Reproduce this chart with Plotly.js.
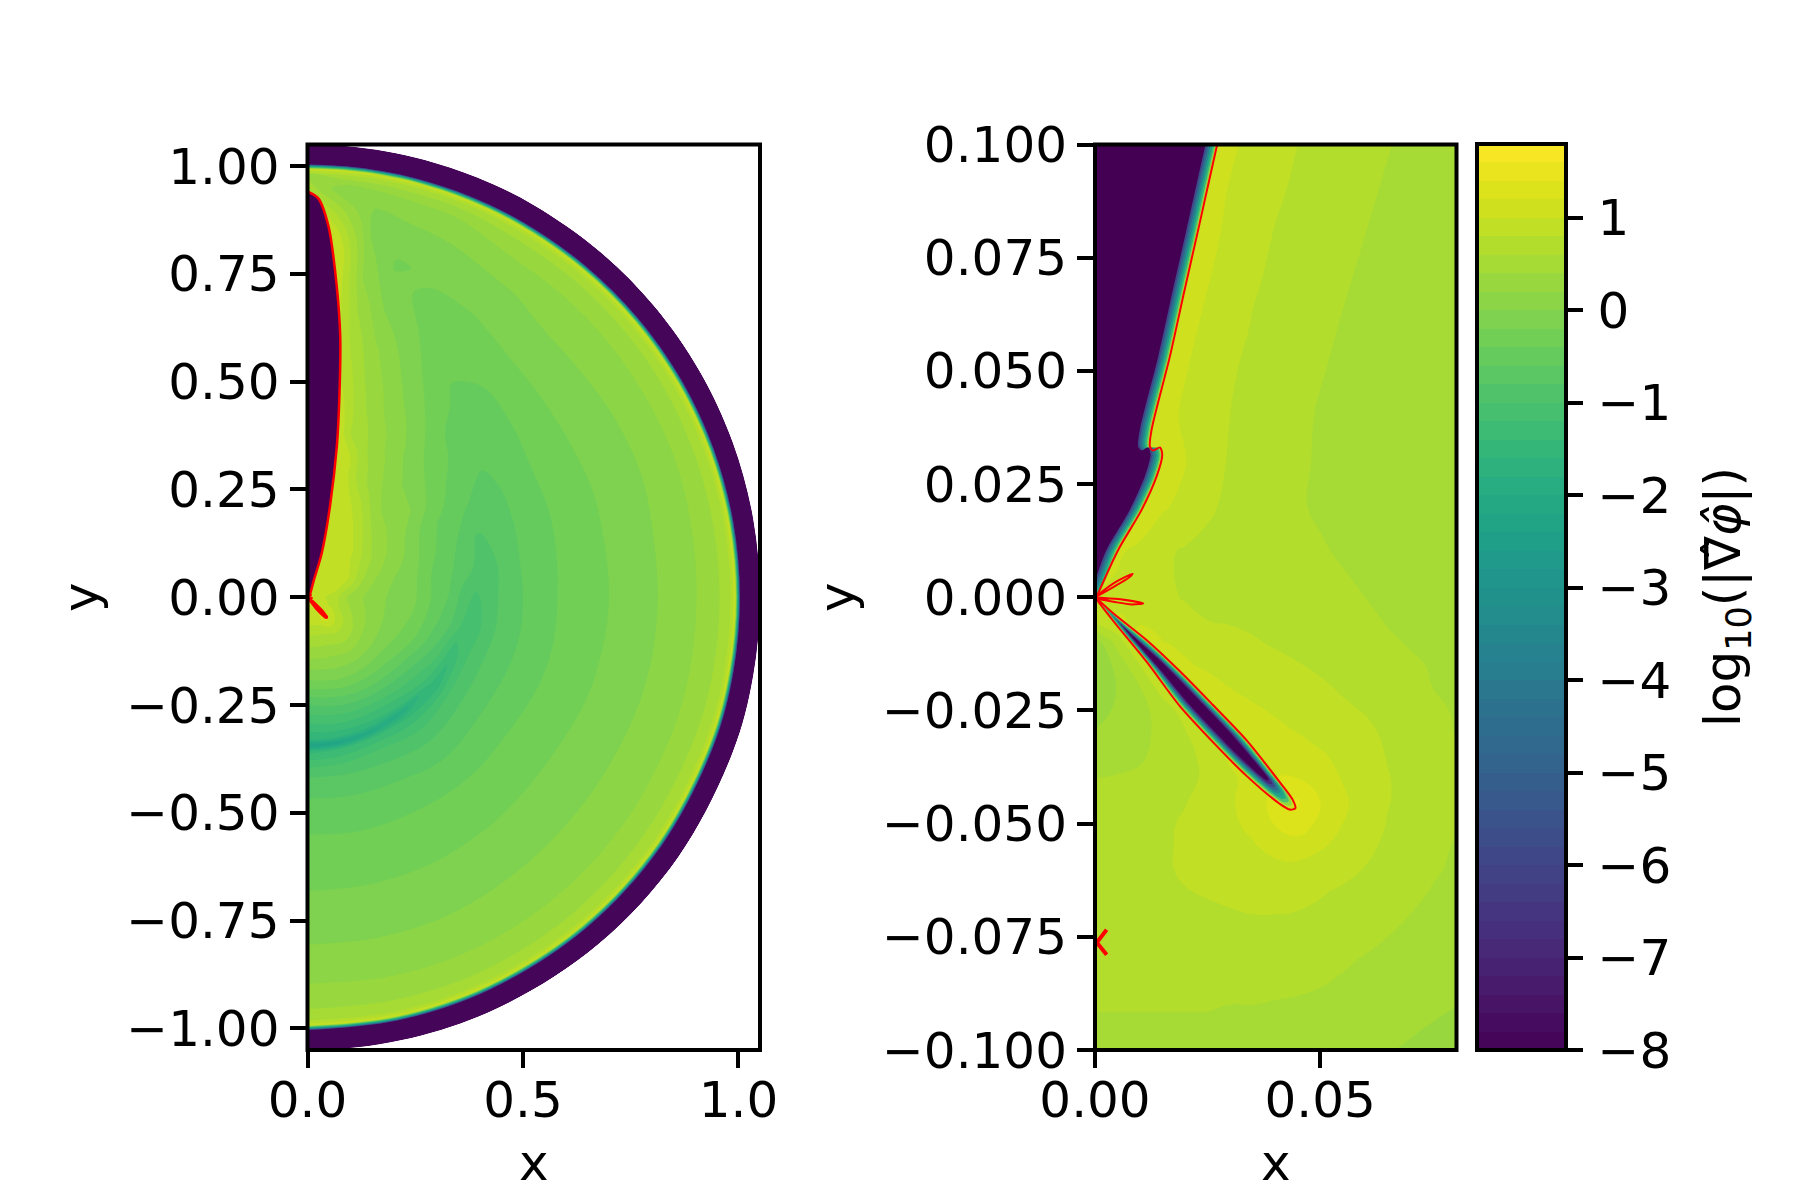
<!DOCTYPE html>
<html>
<head>
<meta charset="utf-8">
<script src="https://cdn.plot.ly/plotly-3.0.1.min.js"></script>
<style>html,body{margin:0;padding:0;background:#fff}</style>
</head>
<body>
<div id="chart" style="width:1800px;height:1200px"></div>
<script>
// ---------- left panel: field read along rays (radius, angle in degrees) ----------
const rNodes = [0,.03,.06,.1,.15,.2,.25,.3,.33,.345,.36,.39,.42,.46,.5,.55,.6,.65,.7,.75,.8,.85,.9,.95,.98,.993,1.0,1.004,1.05];
const angleNodes = [-90,-78,-65,-50,-35,-20,-10,0,10,20,30,40,50,60,68,75,80,85,90];
const fieldLeft = [
 [.9,.9,.85,.52,.15,-.27,-.8,-1.27,-1.6,-2.3,-1.45,-1.05,-.78,-.62,-.5,-.4,-.32,-.25,-.17,-.08,-.01,.08,.21,.37,.55,.95,-3,-7.9,-7.9],
 [.9,.9,.85,.52,.16,-.22,-.72,-1.2,-1.55,-2.25,-1.4,-1.03,-.8,-.63,-.52,-.41,-.32,-.25,-.17,-.08,-.01,.07,.2,.37,.54,.95,-3,-7.9,-7.9],
 [.9,.9,.9,.55,.2,-.15,-.62,-1.15,-1.5,-2.05,-1.35,-1,-.82,-.64,-.53,-.41,-.32,-.25,-.17,-.08,-.01,.07,.19,.36,.52,.95,-3,-7.9,-7.9],
 [.9,.9,1.15,.65,.28,-.12,-.55,-1.05,-1.4,-1.9,-1.45,-1.1,-.88,-.7,-.57,-.42,-.33,-.25,-.16,-.08,0,.07,.19,.36,.52,.95,-3,-7.9,-7.9],
 [.9,.9,.95,.62,.22,-.1,-.45,-.9,-1.15,-1.35,-1.55,-1.05,-.85,-.68,-.55,-.42,-.33,-.25,-.15,-.08,0,.07,.19,.37,.53,.95,-3,-7.9,-7.9],
 [.9,.9,.75,.45,.16,-.08,-.28,-.65,-.9,-1.1,-1.3,-1.05,-.85,-.7,-.58,-.45,-.35,-.27,-.18,-.1,-.01,.07,.19,.37,.53,.95,-3,-7.9,-7.9],
 [.9,.9,.72,.38,.12,-.07,-.22,-.55,-.72,-.85,-.98,-1.15,-.9,-.72,-.6,-.46,-.36,-.28,-.19,-.12,-.02,.07,.19,.36,.54,.95,-3,-7.9,-7.9],
 [.9,.85,.72,.32,.12,-.06,-.18,-.48,-.62,-.75,-.88,-1.05,-.9,-.72,-.6,-.46,-.36,-.29,-.2,-.13,-.02,.06,.19,.36,.55,.95,-3,-7.9,-7.9],
 [.9,.9,.8,.5,.2,0,-.15,-.45,-.55,-.61,-.68,-.8,-.9,-.75,-.6,-.48,-.37,-.29,-.2,-.12,-.03,.07,.18,.36,.55,.95,-3,-7.9,-7.9],
 [.9,.9,.9,.75,.33,.12,-.06,-.33,-.45,-.51,-.57,-.68,-.82,-.74,-.62,-.5,-.39,-.3,-.21,-.13,-.04,.04,.16,.35,.55,.95,-3,-7.9,-7.9],
 [.95,.95,.95,.9,.5,.25,.05,-.2,-.35,-.39,-.43,-.51,-.58,-.66,-.63,-.52,-.4,-.31,-.21,-.13,-.04,.04,.16,.33,.55,.95,-3,-7.9,-7.9],
 [1,1,1,.95,.7,.36,.16,.04,-.06,-.13,-.2,-.3,-.4,-.48,-.58,-.6,-.44,-.34,-.22,-.14,-.04,.05,.15,.32,.55,.95,-3,-7.9,-7.9],
 [1,1,1,1,.88,.6,.25,.1,.03,-.01,-.05,-.13,-.2,-.31,-.41,-.48,-.5,-.36,-.25,-.16,-.05,.03,.14,.31,.55,.95,-3,-7.9,-7.9],
 [1,1,1,1,1,.85,.6,.3,.25,.22,.2,.12,.08,0,-.1,-.22,-.33,-.39,-.3,-.22,-.13,-.03,.12,.3,.55,.95,-3,-7.9,-7.9],
 [1,1,1,1,1,1,.85,.6,.5,.46,.42,.37,.32,.22,.15,.05,-.05,-.15,-.23,-.24,-.15,-.07,.03,.22,.5,.95,-3,-7.9,-7.9],
 [1,1,1,1,1,1,1,1,1,.9,.8,.6,.56,.49,.43,.33,.24,.1,-.03,-.14,-.23,-.1,0,.2,.5,.95,-3,-7.9,-7.9],
 [1,1,1,1,1,1,1,1,1,1,1,1,.95,.85,.75,.65,.55,.45,.33,.19,.1,0,-.05,.12,.5,.95,-3,-7.9,-7.9],
 [1,1,1,1,1,1,1,1,1,1,1,1,1,1,1,1,1,1,1,1,1,.8,.45,.05,.5,.95,-3,-7.9,-7.9],
 [1,1,1,1,1,1,1,1,1,1,1,1,1,1,1,1,1,1,1,1,1,1,1,.5,.4,.95,-3,-7.9,-7.9]
];

// ---------- right panel: field read on a regular grid ----------
const xRight = [0,.005,.01,.015,.02,.025,.03,.035,.04,.045,.05,.055,.06,.065,.07,.075,.081];
const yRight = [.1,.09,.08,.07,.06,.05,.04,.03,.02,.01,0,-.005,-.01,-.015,-.02,-.025,-.03,-.035,-.04,-.045,-.05,-.055,-.06,-.065,-.07,-.08,-.09,-.1];
const fieldRight = [
 [1.15,1.15,1.15,1.15,1.15,1.1,1.03,.95,.87,.8,.75,.7,.65,.61,.56,.52,.48],
 [1.15,1.15,1.15,1.15,1.12,1.07,.99,.91,.83,.77,.72,.67,.63,.58,.54,.5,.46],
 [1.15,1.15,1.15,1.15,1.12,1.05,.96,.87,.79,.74,.7,.65,.6,.56,.52,.48,.45],
 [1.15,1.15,1.15,1.15,1.1,1.01,.92,.82,.77,.72,.67,.62,.57,.53,.49,.46,.44],
 [1.15,1.15,1.15,1.12,1.06,.96,.87,.79,.74,.69,.64,.59,.55,.51,.48,.45,.43],
 [1.15,1.15,1.15,1.1,1.01,.92,.82,.76,.72,.66,.61,.57,.53,.5,.47,.45,.43],
 [1.15,1.15,1.15,1.08,.97,.89,.8,.75,.7,.64,.585,.55,.52,.49,.47,.45,.43],
 [1.15,1.15,1.15,1.15,1.01,.89,.78,.73,.68,.63,.58,.545,.515,.49,.47,.45,.44],
 [1.15,1.15,1.2,1.03,.93,.83,.76,.71,.66,.62,.575,.55,.52,.5,.48,.46,.45],
 [1.15,1.03,.94,.83,.78,.75,.72,.7,.67,.65,.62,.58,.55,.53,.51,.49,.47],
 [1,.95,.9,.83,.79,.77,.75,.73,.71,.69,.66,.64,.6,.57,.54,.52,.5],
 [.9,1.02,.97,.9,.84,.8,.78,.76,.74,.72,.69,.66,.63,.59,.56,.53,.51],
 [.3,.68,1.1,1,.95,.91,.87,.82,.78,.75,.72,.69,.65,.62,.59,.56,.53],
 [.25,.45,.8,1.1,1.03,.96,.92,.88,.85,.81,.77,.73,.69,.66,.62,.59,.56],
 [.25,.41,.59,.9,1.1,1.1,1,.95,.91,.87,.83,.78,.74,.7,.66,.6,.57],
 [.3,.44,.54,.68,.9,1.1,1.08,1.03,.98,.93,.88,.83,.79,.74,.69,.63,.58],
 [.42,.48,.55,.65,.78,1,1.1,1.1,1.05,1,.95,.9,.84,.77,.71,.64,.59],
 [.47,.51,.57,.67,.75,.85,1.05,1.15,1.15,1.1,1.02,.96,.88,.79,.72,.66,.61],
 [.6,.62,.64,.68,.74,.84,.95,1.1,1.2,1.2,1.1,.99,.9,.81,.74,.67,.62],
 [.66,.68,.7,.73,.79,.87,.97,1.1,1.26,1.42,1.2,1.03,.92,.81,.74,.67,.61],
 [.68,.7,.73,.77,.82,.89,.96,1.05,1.21,1.33,1.14,1,.9,.79,.72,.66,.6],
 [.68,.7,.74,.78,.82,.87,.93,.98,1.06,1.09,1.02,.95,.85,.76,.7,.64,.58],
 [.66,.68,.72,.77,.83,.87,.9,.93,.95,.95,.92,.87,.79,.72,.67,.62,.57],
 [.65,.67,.7,.75,.79,.82,.85,.87,.87,.86,.82,.77,.72,.68,.64,.59,.55],
 [.64,.65,.67,.7,.73,.76,.78,.8,.8,.79,.76,.72,.68,.64,.6,.56,.53],
 [.63,.64,.65,.66,.67,.68,.69,.69,.69,.68,.65,.62,.59,.56,.53,.49,.46],
 [.61,.61,.61,.61,.61,.61,.6,.6,.59,.58,.57,.55,.52,.49,.46,.43,.4],
 [.55,.55,.55,.55,.55,.54,.53,.52,.51,.5,.48,.46,.44,.41,.38,.35,.32]
];

// ---------- red outlines ----------
const leftCurveX = [.002,.025,.049,.068,.076,.074,.068,.052,.033,.014,.008,.004];
const leftCurveY = [.94,.925,.859,.72,.604,.465,.349,.21,.102,.037,.014,.002];
const rightCurveX = [.0276,.02714,.02293,.01975,.01664,.01257,.0122,.01294,.01442,.01494,.01368,.01035,.00518,.0004];
const rightCurveY = [.102,.1,.0812,.0672,.0532,.037,.0333,.0324,.0331,.0315,.0267,.0193,.0105,.0002];
const lensX = [.0005,.0041,.0115,.0188,.0262,.0336,.041,.0439,.0445,.0433,.041,.0336,.0262,.0188,.0115,.0041,.0005];
const lensY = [-.0004,-.0036,-.0095,-.0163,-.0238,-.0315,-.0408,-.0447,-.0466,-.0469,-.0456,-.0394,-.032,-.024,-.0143,-.0053,-.0007];
const petalAX = [.00037,.00444,.00836,.0074,.00407,.00037];
const petalAY = [.00033,.0033,.00519,.00424,.00225,.00018];
const petalBX = [.00037,.00518,.01072,.00814,.00407,.00037];
const petalBY = [-.00004,-.00041,-.00136,-.00158,-.00099,-.00033];
const markX = [.00259,.0004,.00259];
const markY = [-.07344,-.07624,-.07897];

const xTicksLeft = [0,.5,1];
const yTicksLeft = [-1,-.75,-.5,-.25,0,.25,.5,.75,1];
const xTicksRight = [0,.05];
const yTicksRight = [-.1,-.075,-.05,-.025,0,.025,.05,.075,.1];
const barTicks = [-8,-7,-6,-5,-4,-3,-2,-1,0,1];

// ---------- style ----------
const DARK = '#440154', RED = '#ff0000';
const wedgeOffsets = [-.0003,-.0006,-.001,-.0014,-.0018,-.0022,-.0026];
const wedgeColors = ['#7ad151','#35b779','#1f9e89','#26828e','#31688e','#3e4989','#440154'];
const lensFractions = [1,.92,.85,.78,.72,.66,.6,.54,.48,.4];
const lensColors = ['#c8e020','#8fd744','#4ec36b','#26a884','#1f9e89','#26828e','#31688e','#3e4989','#482878','#440154'];
const levels = {start:-8,end:1.8,size:.2,coloring:'fill',showlines:false};
const FONT = {family:'DejaVu Sans',size:50,color:'#000'};

const gx = angleNodes.map(a => rNodes.map(r => r*Math.cos(a*Math.PI/180)));
const gy = angleNodes.map(a => rNodes.map(r => r*Math.sin(a*Math.PI/180)));
const hidden = {showgrid:false,showline:false,showticklabels:'none',startline:false,endline:false,minorgridcount:0};

const redLine = (x,y,xa,ya,w,straight) => ({type:'scatter',mode:'lines',x,y,xaxis:xa,yaxis:ya,line:{color:RED,width:w,shape:straight?'linear':'spline',smoothing:.8},hoverinfo:'skip',showlegend:false});
const poly = (x,y,xa,ya,c) => ({type:'scatter',mode:'lines',x,y,xaxis:xa,yaxis:ya,fill:'toself',fillcolor:c,line:{width:0,color:c,shape:'spline',smoothing:.8},hoverinfo:'skip',showlegend:false});

const traces = [
 {type:'carpet',carpet:'polar',a:rNodes,b:angleNodes,x:gx,y:gy,xaxis:'x',yaxis:'y',
  aaxis:Object.assign({smoothing:0},hidden),baxis:Object.assign({smoothing:1},hidden)},
 {type:'contourcarpet',carpet:'polar',a:rNodes,b:angleNodes,z:fieldLeft,autocontour:false,contours:levels,
  line:{width:0,smoothing:1},colorscale:'Viridis',zmin:-8,zmax:1.8,showscale:false,hoverinfo:'skip'},
 {type:'contour',x:xRight,y:yRight,z:fieldRight,xaxis:'x2',yaxis:'y2',autocontour:false,contours:levels,
  line:{width:0,smoothing:1.3},colorscale:'Viridis',zmin:-8,zmax:1.8,hoverinfo:'skip',
  colorbar:{x:1477/1800,xanchor:'left',xref:'paper',y:150/1200,yanchor:'bottom',yref:'paper',len:905.5/1200,lenmode:'fraction',
   thickness:89,thicknessmode:'pixels',xpad:0,ypad:0,outlinewidth:4,outlinecolor:'#000',borderwidth:0,
   ticks:'outside',ticklen:15,tickwidth:4,tickcolor:'#000',tickmode:'array',tickvals:barTicks,
   ticktext:barTicks.map(v=>'\u200a'+(v<0?'\u2212':'')+Math.abs(v)+'\u00a0\u200a'),
   tickfont:FONT,title:{text:'log<sub>10</sub>(|\u2207\u0302<i>\u03c6\u0302</i>|)',side:'right',font:FONT}}}
];

// left panel: dark wedge with its red outline and the short red spike
traces.push(poly([0].concat(leftCurveX,[0]),[.94].concat(leftCurveY,[0]),'x','y',DARK));
traces.push(redLine(leftCurveX,leftCurveY,'x','y',2.5));
traces.push(redLine(lensX,lensY,'x','y',3));
traces.push(redLine(petalAX,petalAY,'x','y',2));
traces.push(redLine(petalBX,petalBY,'x','y',2));

// right panel: steep dark wedge, layered towards its core
wedgeOffsets.forEach((d,i)=>{
  traces.push(poly([-.01].concat(rightCurveX.map(v=>v+d),[-.01]),[.102].concat(rightCurveY,[rightCurveY[rightCurveY.length-1]]),'x2','y2',wedgeColors[i]));
});
traces.push(redLine(rightCurveX,rightCurveY,'x2','y2',2));

// right panel: narrow dark lens, layered towards its core
const ax0 = lensX[0], ay0 = lensY[0], ax1 = lensX[8], ay1 = lensY[8];
const lensLen = Math.hypot(ax1-ax0,ay1-ay0), ux=(ax1-ax0)/lensLen, uy=(ay1-ay0)/lensLen;
const mx=(ax0+ax1)/2, my=(ay0+ay1)/2;
lensFractions.forEach((f,i)=>{
  const g=.55+.45*f;
  const px=[],py=[];
  lensX.forEach((x,k)=>{
    const y=lensY[k], s=(x-ax0)*ux+(y-ay0)*uy, cx=ax0+s*ux, cy=ay0+s*uy;
    px.push(mx+g*(cx-mx)+f*(x-cx)); py.push(my+g*(cy-my)+f*(y-cy));
  });
  traces.push(poly(px,py,'x2','y2',lensColors[i]));
});
traces.push(redLine(lensX,lensY,'x2','y2',2));
traces.push(redLine(petalAX,petalAY,'x2','y2',2));
traces.push(redLine(petalBX,petalBY,'x2','y2',2));
traces.push(redLine(markX,markY,'x2','y2',4,true));

const axisBase = {showgrid:false,zeroline:false,showline:false,
  ticks:'outside',ticklen:17,tickwidth:4,tickcolor:'#000',tickfont:FONT,automargin:false,tickmode:'array'};
const axisTitle = (s,gap) => ({text:s,font:FONT,standoff:gap});
const domTop = (1200-144.5)/1200, domBottom = (1200-1050)/1200;
const frame = (xr,yr) => ({type:'rect',xref:xr+' domain',yref:yr+' domain',x0:0,x1:1,y0:0,y1:1,line:{color:'#000',width:4},fillcolor:'rgba(0,0,0,0)',layer:'above'});

const layout = {
  width:1800,height:1200,margin:{l:0,r:0,t:0,b:0,pad:0},paper_bgcolor:'#fff',plot_bgcolor:'#fff',showlegend:false,font:FONT,
  shapes:[frame('x','y'),frame('x2','y2')],
  xaxis:Object.assign({},axisBase,{domain:[307.5/1800,760/1800],range:[0,1.05],tickvals:xTicksLeft,ticktext:xTicksLeft.map(v=>v.toFixed(1)),ticklabelstandoff:-11,title:axisTitle('x',16),anchor:'y'}),
  yaxis:Object.assign({},axisBase,{domain:[domBottom,domTop],range:[-1.05,1.05],tickvals:yTicksLeft,ticktext:yTicksLeft.map(v=>(v<0?'\u2212':'')+Math.abs(v).toFixed(2)),title:axisTitle('y',11),anchor:'x'}),
  xaxis2:Object.assign({},axisBase,{domain:[1095/1800,1456.5/1800],range:[0,.0803],tickvals:xTicksRight,ticktext:xTicksRight.map(v=>v.toFixed(2)),ticklabelstandoff:-11,title:axisTitle('x',16),anchor:'y2'}),
  yaxis2:Object.assign({},axisBase,{domain:[domBottom,domTop],range:[-.1,.1],tickvals:yTicksRight,ticktext:yTicksRight.map(v=>(v<0?'\u2212':'')+Math.abs(v).toFixed(3)),title:axisTitle('y',11),anchor:'x2'})
};
Plotly.newPlot('chart',traces,layout,{displayModeBar:false,staticPlot:true});
</script>
</body>
</html>
